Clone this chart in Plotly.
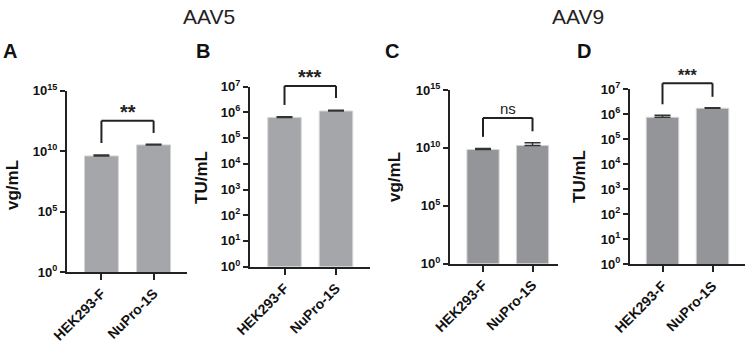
import plotly.graph_objects as go

# ---- data ----
categories = ["HEK293-F", "NuPro-1S"]
a_vals = [3.9e9, 3.2e10]
a_err = [0.8e9, 0.4e10]
b_vals = [6.4e5, 1.13e6]
b_err = [0.4e5, 0.07e6]
c_vals = [7.1e9, 1.6e10]
c_err = [1.5e9, 1.1e10]
d_vals = [7.6e5, 1.74e6]
d_err = [1.5e5, 0.1e6]
sig_labels = ["**", "***", "ns", "***"]
y_titles = ["vg/mL", "TU/mL", "vg/mL", "TU/mL"]
panel_letters = ["A", "B", "C", "D"]
group_titles = ["AAV5", "AAV9"]
exp_ticks_15 = [0, 5, 10, 15]
exp_ticks_7 = [0, 1, 2, 3, 4, 5, 6, 7]

FONT = "Liberation Sans, Arial, sans-serif"
W, H = 747, 347

panels = [
    dict(vals=a_vals, err=a_err, top=15, ticks=exp_ticks_15, color="#a5a6aa",
         xpx=(67, 187), ypx=(90.5, 272), xr=(-0.66, 1.64),
         br=(12.5, 10.66, 11.49), lab_y=13.2, lab_size=20, lab_bold=True,
         title_px=(12, 185), letter_px=(10, 51)),
    dict(vals=b_vals, err=b_err, top=7, ticks=exp_ticks_7, color="#a5a6aa",
         xpx=(250, 370), ypx=(86.7, 266.6), xr=(-0.67, 1.66),
         br=(7.03, 6.29, 6.56), lab_y=7.36, lab_size=20, lab_bold=True,
         title_px=(202, 177), letter_px=(203, 51)),
    dict(vals=c_vals, err=c_err, top=15, ticks=exp_ticks_15, color="#949599",
         xpx=(450, 558), ypx=(90, 263.5), xr=(-0.667, 1.515),
         br=(12.59, 10.95, 11.43), lab_y=13.4, lab_size=15, lab_bold=False,
         title_px=(395, 177), letter_px=(392, 51)),
    dict(vals=d_vals, err=d_err, top=7, ticks=exp_ticks_7, color="#949599",
         xpx=(630, 745), ypx=(89.3, 264.3), xr=(-0.65, 1.65),
         br=(7.24, 6.4, 6.70), lab_y=7.55, lab_size=16, lab_bold=True,
         title_px=(580, 177), letter_px=(584, 51)),
]

fig = go.Figure()
shapes = []
annotations = []
AX = "#222222"


def exp_label(e):
    return "10<sup>%d</sup>" % e


for i, p in enumerate(panels):
    n = "" if i == 0 else str(i + 1)
    xa, ya = "x" + n, "y" + n
    fig.add_trace(go.Bar(
        x=categories, y=p["vals"], xaxis=xa, yaxis=ya, width=0.65,
        marker=dict(color=p["color"], line=dict(color="#d4d4d6", width=1)),
        error_y=dict(type="data", array=p["err"], arrayminus=[0, 0], symmetric=False,
                     color="#333333", thickness=1.5, width=8),
        showlegend=False, hoverinfo="x+y",
    ))
    xdom = [p["xpx"][0] / W, p["xpx"][1] / W]
    ydom = [(H - p["ypx"][1]) / H, (H - p["ypx"][0]) / H]
    fig.layout["xaxis" + n] = dict(
        domain=xdom, anchor=ya, type="category", range=list(p["xr"]),
        automargin=False,
        showline=True, linecolor=AX, linewidth=2, ticks="outside", ticklen=6,
        tickwidth=2, tickcolor=AX, tickangle=-45, showgrid=False, zeroline=False,
        tickfont=dict(family=FONT, size=14, color="#111", weight=700),
        tickvals=categories, ticktext=categories,
    )
    fig.layout["yaxis" + n] = dict(
        domain=ydom, anchor=xa, type="log", range=[0, p["top"]],
        automargin=False,
        showline=True, linecolor=AX, linewidth=2, ticks="outside", ticklen=5,
        tickwidth=2, tickcolor=AX, showgrid=False, zeroline=False,
        tickvals=[10 ** e for e in p["ticks"]],
        ticktext=[exp_label(e) for e in p["ticks"]],
        tickfont=dict(family=FONT, size=13, color="#111", weight=700),
    )
    top = p["top"]
    yd = ya + " domain"
    hb, lb, rb = p["br"]
    # significance bracket
    shapes.append(dict(type="line", xref=xa, yref=yd, x0=0, x1=1, y0=hb / top, y1=hb / top,
                       line=dict(color=AX, width=2)))
    shapes.append(dict(type="line", xref=xa, yref=yd, x0=0, x1=0, y0=lb / top, y1=hb / top,
                       line=dict(color=AX, width=2)))
    shapes.append(dict(type="line", xref=xa, yref=yd, x0=1, x1=1, y0=rb / top, y1=hb / top,
                       line=dict(color=AX, width=2)))
    annotations.append(dict(
        xref=xa, yref=yd, x=0.5, y=p["lab_y"] / top, showarrow=False,
        text=sig_labels[i],
        font=dict(family=FONT, size=p["lab_size"], color="#222",
                  weight=700 if p["lab_bold"] else 400),
        yanchor="middle",
    ))
    # y title
    tx, ty = p["title_px"]
    annotations.append(dict(
        xref="paper", yref="paper", x=tx / W, y=1 - ty / H, showarrow=False,
        text=y_titles[i], textangle=-90,
        font=dict(family=FONT, size=17, color="#111", weight=700),
        xanchor="center", yanchor="middle",
    ))
    # panel letter
    lx, ly = p["letter_px"]
    annotations.append(dict(
        xref="paper", yref="paper", x=lx / W, y=1 - ly / H, showarrow=False,
        text=panel_letters[i],
        font=dict(family=FONT, size=20, color="#111", weight=700),
        xanchor="center", yanchor="middle",
    ))

for t, cx in zip(group_titles, [209, 578]):
    annotations.append(dict(
        xref="paper", yref="paper", x=cx / W, y=1 - 17 / H, showarrow=False,
        text=t, font=dict(family=FONT, size=21, color="#222"),
        xanchor="center", yanchor="middle",
    ))

fig.update_layout(
    width=W, height=H, margin=dict(l=0, r=0, t=0, b=0, autoexpand=False),
    paper_bgcolor="white", plot_bgcolor="white",
    shapes=shapes, annotations=annotations, bargap=0.3,
    font=dict(family=FONT),
)

fig.write_html("out.html")
